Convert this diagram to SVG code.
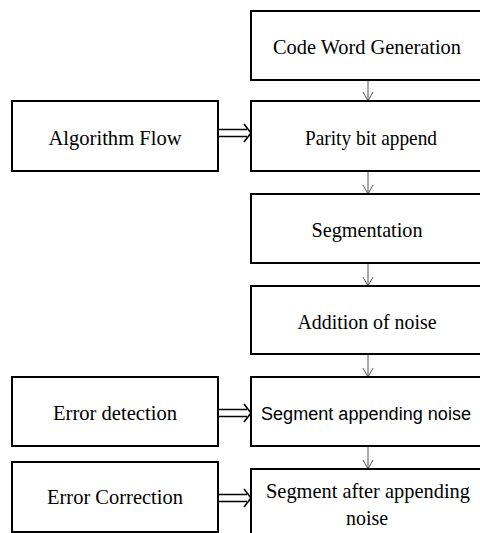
<svg xmlns="http://www.w3.org/2000/svg" width="480" height="533" viewBox="0 0 480 533">
<style>
.box{fill:#fff;stroke:#000;stroke-width:2}
.t{font-family:'Liberation Serif','Times New Roman',serif;font-size:21.5px;fill:#000;text-anchor:middle}
.s{font-family:'Liberation Sans',Arial,sans-serif;font-size:18px;fill:#000;text-anchor:middle}
.ln{stroke:#555;stroke-width:1;fill:none}
.dbl{stroke:#000;stroke-width:1.6;fill:none}
</style>
<rect width="480" height="533" fill="#fff"/>
<g id="connectors">
<path class="ln" d="M368,80V101M363,92L368,101L373,92"/>
<path class="ln" d="M368,171V194M363,185L368,194L373,185"/>
<path class="ln" d="M368,263V286M363,277L368,286L373,277"/>
<path class="ln" d="M368,354V377M363,368L368,377L373,368"/>
<path class="ln" d="M368,446V469M363,460L368,469L373,460"/>
<path class="dbl" d="M218,129.5H247M218,136.5H247M244,124L251,133L244,142"/>
<path class="dbl" d="M218,409.5H247M218,416.5H247M244,404L251,413L244,422"/>
<path class="dbl" d="M218,494.5H247M218,501.5H247M244,489L251,498L244,507"/>
</g>
<g id="n1"><rect class="box" x="251" y="11" width="230" height="69"/><text class="t" x="367" y="54" textLength="188" lengthAdjust="spacingAndGlyphs">Code Word Generation</text></g>
<g id="n2"><rect class="box" x="251" y="101" width="230" height="70"/><text class="t" x="371" y="145" textLength="132" lengthAdjust="spacingAndGlyphs">Parity bit append</text></g>
<g id="n3"><rect class="box" x="251" y="194" width="230" height="69"/><text class="t" x="367" y="237" textLength="111" lengthAdjust="spacingAndGlyphs">Segmentation</text></g>
<g id="n4"><rect class="box" x="251" y="286" width="230" height="68"/><text class="t" x="367" y="329" textLength="139" lengthAdjust="spacingAndGlyphs">Addition of noise</text></g>
<g id="n5"><rect class="box" x="251" y="377" width="230" height="69"/><text class="s" x="366" y="420" textLength="210" lengthAdjust="spacingAndGlyphs">Segment appending noise</text></g>
<g id="n6"><rect class="box" x="251" y="469" width="230" height="80"/><text class="t" x="368" y="498" textLength="204" lengthAdjust="spacingAndGlyphs">Segment after appending</text><text class="t" x="367" y="525" textLength="42" lengthAdjust="spacingAndGlyphs">noise</text></g>
<g id="l1"><rect class="box" x="12" y="101" width="206" height="70"/><text class="t" x="115" y="145" textLength="133" lengthAdjust="spacingAndGlyphs">Algorithm Flow</text></g>
<g id="l2"><rect class="box" x="12" y="377" width="206" height="69"/><text class="t" x="115" y="420" textLength="124" lengthAdjust="spacingAndGlyphs">Error detection</text></g>
<g id="l3"><rect class="box" x="12" y="462" width="206" height="70"/><text class="t" x="115" y="504" textLength="136" lengthAdjust="spacingAndGlyphs">Error Correction</text></g>
</svg>
